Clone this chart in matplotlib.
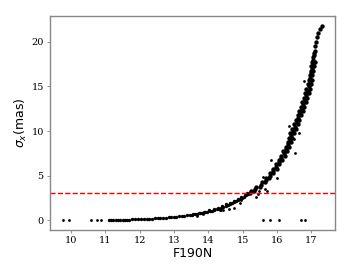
import matplotlib
matplotlib.use("Agg")
import matplotlib.pyplot as plt

# faint end: stars with zero error
mag_zero = [9.76, 9.93, 10.59, 10.75, 10.86, 15.60, 15.80, 16.05, 16.69, 16.81]
sig_zero = [0, 0, 0, 0, 0, 0, 0, 0, 0, 0]

# bright stars, low error tail
mag_low = [11.10, 11.15, 11.22, 11.30, 11.36, 11.42, 11.50, 11.56, 11.63, 11.70,
           11.78, 11.85, 11.95, 12.05, 12.12, 12.20, 12.28, 12.36, 12.45, 12.52,
           12.60, 12.68, 12.76, 12.84, 12.92, 13.00, 13.07, 13.14, 13.22, 13.30,
           13.38, 13.45, 13.52, 13.60, 13.68, 13.75, 13.82, 13.90, 13.97, 14.04,
           14.10, 14.17, 14.24, 14.30, 14.37, 14.44, 14.50, 14.56, 14.62, 14.68,
           14.74, 14.80, 14.86, 14.92, 14.98, 15.04, 15.10, 15.15,
           13.55, 13.72, 13.88, 14.02, 14.15, 14.28, 14.40, 14.52, 14.64, 14.75,
           14.86, 14.96, 15.06, 15.14]
sig_low = [0.04, 0.05, 0.05, 0.05, 0.06, 0.06, 0.07, 0.07, 0.08, 0.08,
           0.09, 0.10, 0.11, 0.13, 0.14, 0.15, 0.16, 0.18, 0.20, 0.22,
           0.24, 0.26, 0.28, 0.31, 0.33, 0.36, 0.39, 0.42, 0.46, 0.49,
           0.53, 0.57, 0.61, 0.66, 0.71, 0.76, 0.82, 0.88, 0.94, 1.01,
           1.08, 1.15, 1.23, 1.31, 1.40, 1.50, 1.59, 1.68, 1.78, 1.89,
           2.00, 2.12, 2.24, 2.37, 2.50, 2.64, 2.79, 2.92,
           0.68, 0.80, 0.95, 1.10, 1.25, 1.42, 1.60, 1.78, 1.98, 2.18,
           2.40, 2.62, 2.85, 3.05]

# faint stars, steep part of the sequence
mag_high = [15.20, 15.37, 15.53, 15.67, 15.79, 15.89, 15.98, 16.06, 16.13, 16.20,
            16.27, 16.33, 16.38, 16.42, 16.46, 16.52, 16.57, 16.62, 16.67, 16.72,
            16.76, 16.81, 16.85, 16.89, 16.92, 16.95, 16.97, 17.00, 17.02, 17.04,
            17.06, 17.08, 17.10, 17.12, 17.15, 17.18, 17.21, 17.26, 17.31,
            15.24, 15.40, 15.55, 15.68, 15.79, 15.89, 15.97, 16.05, 16.12, 16.19,
            16.25, 16.31, 16.35, 16.39, 16.44, 16.50, 16.55, 16.60, 16.65, 16.69,
            16.74, 16.78, 16.83, 16.86, 16.90, 16.93, 16.96, 16.98, 17.00, 17.02,
            17.04, 17.07,
            15.34, 15.50, 15.65, 15.78, 15.89, 15.99, 16.07, 16.15, 16.22, 16.29,
            16.35, 16.41, 16.45, 16.49, 16.54, 16.60, 16.65, 16.70, 16.75, 16.79,
            16.84, 16.88, 16.92, 16.95, 16.98, 17.01, 17.03, 17.06, 17.08, 17.10]
sig_high = [3.0, 3.5, 4.0, 4.5, 5.0, 5.5, 6.0, 6.5, 7.0, 7.5,
            8.0, 8.5, 9.0, 9.5, 10.0, 10.5, 11.0, 11.5, 12.0, 12.5,
            13.0, 13.5, 14.0, 14.5, 15.0, 15.5, 16.0, 16.5, 17.0, 17.5,
            18.0, 18.5, 19.0, 19.5, 20.0, 20.5, 21.0, 21.4, 21.8,
            3.25, 3.75, 4.25, 4.75, 5.25, 5.75, 6.25, 6.75, 7.25, 7.75,
            8.25, 8.75, 9.25, 9.75, 10.25, 10.75, 11.25, 11.75, 12.25, 12.75,
            13.25, 13.75, 14.25, 14.75, 15.25, 15.75, 16.25, 16.75, 17.25, 17.75,
            18.25, 18.75,
            3.25, 3.75, 4.25, 4.75, 5.25, 5.75, 6.25, 6.75, 7.25, 7.75,
            8.25, 8.75, 9.25, 9.75, 10.25, 10.75, 11.25, 11.75, 12.25, 12.75,
            13.25, 13.75, 14.25, 14.75, 15.25, 15.75, 16.25, 16.75, 17.25, 17.75]

# stars off the main sequence
mag_out = [16.78, 16.36, 16.63, 16.51, 16.52, 15.84, 16.22, 16.00, 16.01, 15.58,
           15.64, 15.71, 15.48, 15.38, 15.44, 14.76, 14.91, 14.94, 14.60, 14.44,
           14.33, 14.38, 13.83, 13.67]
sig_out = [15.6, 10.6, 9.8, 9.1, 7.5, 6.8, 7.3, 5.7, 4.7, 4.9,
           3.5, 3.3, 3.3, 2.65, 2.9, 1.4, 1.9, 2.25, 1.3, 1.2,
           1.1, 1.2, 0.75, 0.5]

sigma_cut = 3.0

fig = plt.figure(figsize=(3.57, 2.68), dpi=100)
ax = fig.add_axes([0.140, 0.142, 0.798, 0.798])

ax.scatter(mag_zero, sig_zero, s=4, c='k', linewidths=0)
ax.scatter(mag_low, sig_low, s=6, c='k', linewidths=0)
ax.scatter(mag_high, sig_high, s=10, c='k', linewidths=0)
ax.scatter(mag_out, sig_out, s=4, c='k', linewidths=0)

ax.axhline(sigma_cut, color='red', linestyle='--', linewidth=1.0)

ax.set_xlabel('F190N', fontsize=9, labelpad=1)
ax.set_ylabel(r'$\sigma_x$(mas)', fontsize=9, labelpad=2)
ax.set_xticks([10, 11, 12, 13, 14, 15, 16, 17])
ax.set_yticks([0, 5, 10, 15, 20])
for lab in ax.get_xticklabels() + ax.get_yticklabels():
    lab.set_family('DejaVu Serif')
    lab.set_fontsize(7)
ax.tick_params(length=2.5, width=0.6, color='#808080', pad=2)
for sp in ax.spines.values():
    sp.set_color('#888888')
    sp.set_linewidth(1.0)

fig.savefig('out.png', dpi=100)
